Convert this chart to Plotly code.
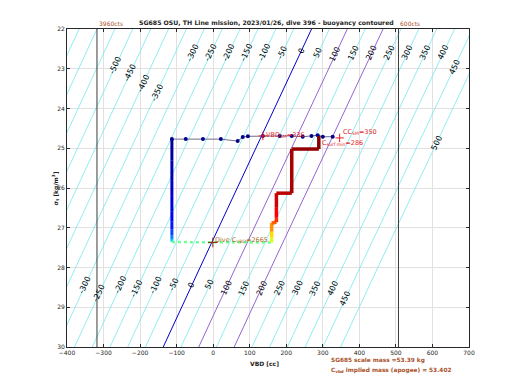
import plotly.graph_objects as go
from plotly.colors import sample_colorscale

# ---------------- data ----------------
MASS_G = 53390.0          # glider scale mass [g]
V0_CC = 51971.7           # neutral hull volume [cc]

contour_levels = list(range(-650, 501, 50))     # buoyancy contours [g]
special_levels = {0: "rgb(0,0,205)", 100: "rgb(150,100,210)", 200: "rgb(150,100,210)"}

label_B = [-500, -450, -400, -350, -300, -250, -200, -150, -100, -50, 0, 50, 100, 150,
           200, 250, 300, 350, 400, 450, 500,
           -300, -250, -200, -150, -100, -50, 0, 50, 100, 150, 200, 250, 300, 350, 400, 450]
label_sigma = [22.93, 23.10, 23.36, 23.61, 22.60, 22.60, 22.60, 22.60, 22.60, 22.60, 22.56, 22.60, 22.65, 22.60,
               22.60, 22.60, 22.60, 22.60, 22.60, 22.96, 24.87,
               28.44, 28.64, 28.44, 28.54, 28.44, 28.44, 28.44, 28.44, 28.52, 28.52, 28.52, 28.52, 28.52, 28.52, 28.52, 28.79]

surf_vbd = [-113, -75, -28, 21, 67, 81, 95, 136, 182, 215, 245, 269, 286, 300, 327]
surf_sigma = [24.77, 24.77, 24.77, 24.77, 24.82, 24.72, 24.70, 24.69, 24.69, 24.69, 24.71, 24.69, 24.67, 24.71, 24.71]

desc_sigma = [24.77, 25.3, 25.8, 26.2, 26.6, 26.85, 27.05, 27.2, 27.28, 27.33, 27.36]
desc_time = [0.02, 0.04, 0.06, 0.08, 0.10, 0.13, 0.17, 0.22, 0.28, 0.34, 0.42]
desc_vbd = -113

bottom_vbd = [-113, 160]
bottom_sigma = [27.36, 27.37]

asc_vbd = [160, 160, 160, 160, 173, 173, 173, 173, 215, 215, 289, 289]
asc_sigma = [27.37, 27.25, 27.1, 26.88, 26.86, 26.75, 26.5, 26.13, 26.13, 25.02, 25.02, 24.69]
asc_time = [0.55, 0.62, 0.70, 0.76, 0.80, 0.86, 0.90, 0.93, 0.95, 0.97, 0.99, 1.0]

VBD_LIMITS = [-318, 507]
VBD_LIMIT_LABELS = ["3960cts", "600cts"]

JET = [[0, "rgb(0,0,128)"], [0.125, "rgb(0,0,255)"], [0.375, "rgb(0,255,255)"],
       [0.625, "rgb(255,255,0)"], [0.875, "rgb(255,0,0)"], [1, "rgb(128,0,0)"]]

FONT = "DejaVu Sans"


def vbd_for(B, sigma):
    rho = (1000.0 + sigma) / 1000.0
    return (MASS_G + B) / rho - V0_CC


fig = go.Figure()

# buoyancy contour lines
sig_pts = [21.5, 24, 26, 28, 30.5]
for B in contour_levels:
    col = special_levels.get(B, "rgb(115,233,240)")
    fig.add_trace(go.Scatter(x=[vbd_for(B, s) for s in sig_pts], y=sig_pts, mode="lines",
                             line=dict(color=col, width=1 if B in special_levels else 0.8),
                             hoverinfo="skip", showlegend=False))

# VBD limit lines
for xv in VBD_LIMITS:
    fig.add_trace(go.Scatter(x=[xv, xv], y=[22, 30], mode="lines",
                             line=dict(color="rgb(60,60,60)", width=1), showlegend=False, hoverinfo="skip"))

# surface points
fig.add_trace(go.Scatter(x=surf_vbd, y=surf_sigma, mode="lines+markers",
                         line=dict(color="rgb(110,110,140)", width=1),
                         marker=dict(color="rgb(0,0,140)", size=4), showlegend=False))

# descent
for i in range(len(desc_sigma) - 1):
    c = sample_colorscale(JET, [(desc_time[i] + desc_time[i + 1]) / 2])[0]
    fig.add_trace(go.Scatter(x=[desc_vbd, desc_vbd], y=[desc_sigma[i], desc_sigma[i + 1]], mode="lines",
                             line=dict(color=c, width=3), showlegend=False))

# apogee pump
fig.add_trace(go.Scatter(x=bottom_vbd, y=bottom_sigma, mode="lines",
                         line=dict(color=sample_colorscale(JET, [0.48])[0], width=2.5, dash="dot"),
                         showlegend=False))

# ascent
for i in range(len(asc_sigma) - 1):
    c = sample_colorscale(JET, [(asc_time[i] + asc_time[i + 1]) / 2])[0]
    fig.add_trace(go.Scatter(x=[asc_vbd[i], asc_vbd[i + 1]], y=[asc_sigma[i], asc_sigma[i + 1]], mode="lines",
                             line=dict(color=c, width=3.5), showlegend=False))

# marker crosses
fig.add_trace(go.Scatter(x=[136, 346], y=[24.69, 24.74], mode="markers",
                         marker=dict(symbol="cross-thin", size=6, line=dict(color="rgb(230,30,30)", width=1)),
                         showlegend=False))
fig.add_trace(go.Scatter(x=[-1], y=[27.37], mode="markers",
                         marker=dict(symbol="cross-thin", size=7, line=dict(color="rgb(150,40,20)", width=1)),
                         showlegend=False))

ann = []
# contour labels
for B, s in zip(label_B, label_sigma):
    ann.append(dict(x=vbd_for(B, s), y=s, text=str(B), showarrow=False, textangle=-65,
                    font=dict(family=FONT, size=8, color="black")))

red = "rgb(225,30,30)"
ann += [
    dict(x=140, y=24.66, text="VBD<sub>SM</sub>=336", xanchor="left", showarrow=False,
         font=dict(family=FONT, size=6.5, color=red)),
    dict(x=351, y=24.58, text="CC<sub>SM</sub>=350", xanchor="left", showarrow=False,
         font=dict(family=FONT, size=6.5, color=red)),
    dict(x=292, y=24.87, text="C<sub>surf min</sub>=286", xanchor="left", showarrow=False,
         font=dict(family=FONT, size=6.5, color=red)),
    dict(x=0, y=27.31, text="Dive C<sub>VBD</sub>=2665", xanchor="left", showarrow=False,
         font=dict(family=FONT, size=6.5, color="rgb(170,110,40)")),
]
for xv, t in zip(VBD_LIMITS, VBD_LIMIT_LABELS):
    ann.append(dict(x=xv, y=1.0, xref="x", yref="paper", yanchor="bottom", xanchor="left", text=t,
                    showarrow=False, font=dict(family=FONT, size=6, color="rgb(170,80,40)")))

ann += [
    dict(x=0.4975, y=1.0, xref="paper", yref="paper", yanchor="bottom",
         text="<b>SG685 OSU, TH Line mission, 2023/01/26, dive 396 - buoyancy contoured</b>",
         showarrow=False, font=dict(family=FONT, size=6.2, color="rgb(30,30,30)")),
    dict(x=0.4925, y=-0.068, xref="paper", yref="paper", text="<b>VBD [cc]</b>", showarrow=False,
         font=dict(family=FONT, size=6, color="rgb(30,30,30)")),
    dict(x=-0.045, y=0.5, xref="paper", yref="paper", text="<b>σ<sub>t</sub> [kg/m<sup>3</sup>]</b>", textangle=-90,
         showarrow=False, font=dict(family=FONT, size=6, color="rgb(30,30,30)")),
    dict(x=0.652, y=-0.06, xref="paper", yref="paper", xanchor="left", text="<b>SG685 scale mass =53.39 kg</b>",
         showarrow=False, font=dict(family=FONT, size=5.8, color="rgb(170,80,40)")),
    dict(x=0.652, y=-0.09, xref="paper", yref="paper", xanchor="left",
         text="<b>C<sub>vbd</sub> implied mass (apogee) = 53.402</b>",
         showarrow=False, font=dict(family=FONT, size=5.8, color="rgb(170,80,40)")),
]

axis_common = dict(showgrid=True, gridcolor="rgb(225,225,225)", gridwidth=1, zeroline=False,
                   showline=True, linecolor="rgb(40,40,40)", linewidth=1, mirror="allticks",
                   ticks="inside", ticklen=3, tickcolor="rgb(40,40,40)",
                   tickfont=dict(family=FONT, size=6, color="rgb(30,30,30)"))

fig.update_layout(
    width=520, height=390,
    margin=dict(l=59, r=59, t=21, b=51),
    paper_bgcolor="white", plot_bgcolor="white",
    xaxis=dict(range=[-400, 700], dtick=100, tick0=-400, **axis_common),
    yaxis=dict(range=[30, 22], dtick=1, tick0=22, **axis_common),
    annotations=ann,
    showlegend=False,
)

fig.write_html("out.html")
